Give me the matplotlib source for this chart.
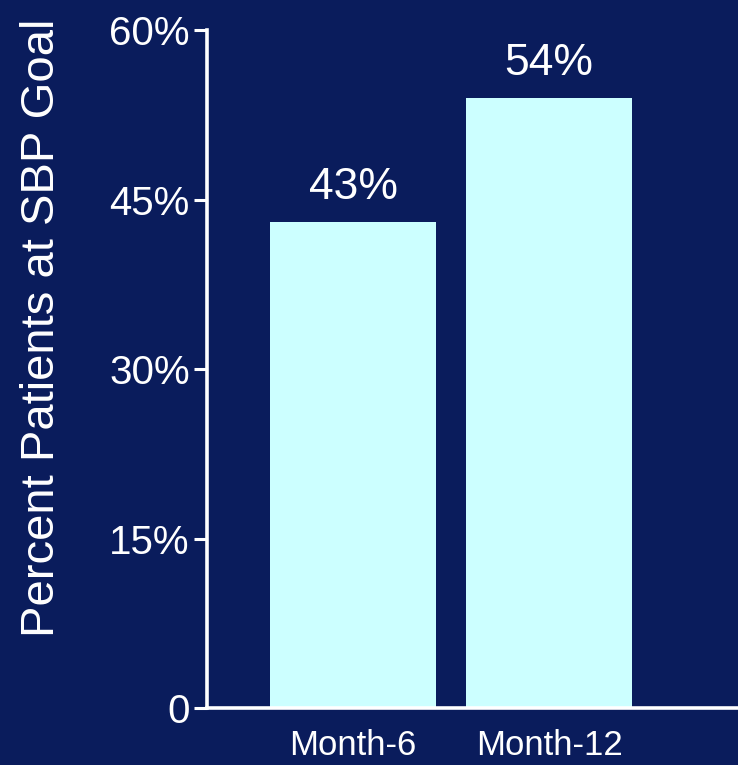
import matplotlib
matplotlib.use("Agg")
import matplotlib.pyplot as plt
from matplotlib.ticker import FixedLocator, FixedFormatter

categories = ["Month-6", "Month-12"]
values = [43, 54]
value_labels = ["43%", "54%"]
yticks = [0, 15, 30, 45, 60]
ytick_labels = ["0", "15%", "30%", "45%", "60%"]
ylabel = "Percent Patients at SBP Goal"

BG = "#0a1c5c"
BAR = "#ccffff"
FG = "white"

plt.rcParams["font.family"] = ["Liberation Sans", "DejaVu Sans"]

W, H = 738, 765
fig = plt.figure(figsize=(W / 100, H / 100), dpi=100, facecolor=BG)
ax = fig.add_axes([207 / W, (H - 708) / H, (W - 207) / W, 678 / H])
ax.set_facecolor(BG)

x = list(range(len(categories)))
ax.bar(x, values, width=0.847, color=BAR, edgecolor="none", zorder=2)
for xi, v, lab in zip(x, values, value_labels):
    ax.annotate(lab, (xi, v), xytext=(0, 10), textcoords="offset points",
                ha="center", va="bottom", color=FG, fontsize=32)

ax.set_xlim(-0.745, 1.964)
ax.set_ylim(0, 60)
ax.yaxis.set_major_locator(FixedLocator(yticks))
ax.yaxis.set_major_formatter(FixedFormatter(ytick_labels))
ax.set_xticks(x)
ax.set_xticklabels(categories, fontsize=25, color=FG)
ax.tick_params(axis="x", length=0, pad=15)
ax.tick_params(axis="y", length=9.5, width=2.2, color=FG, labelcolor=FG,
               labelsize=29, pad=3, direction="out")

for s in ["top", "right"]:
    ax.spines[s].set_visible(False)
for s in ["left", "bottom"]:
    ax.spines[s].set_color(FG)
    ax.spines[s].set_linewidth(2.6)

fig.text(42 / W, 1 - 328 / H, ylabel, rotation=90, ha="center", va="center",
         color=FG, fontsize=34)

fig.savefig("out.png", dpi=100, facecolor=BG)
